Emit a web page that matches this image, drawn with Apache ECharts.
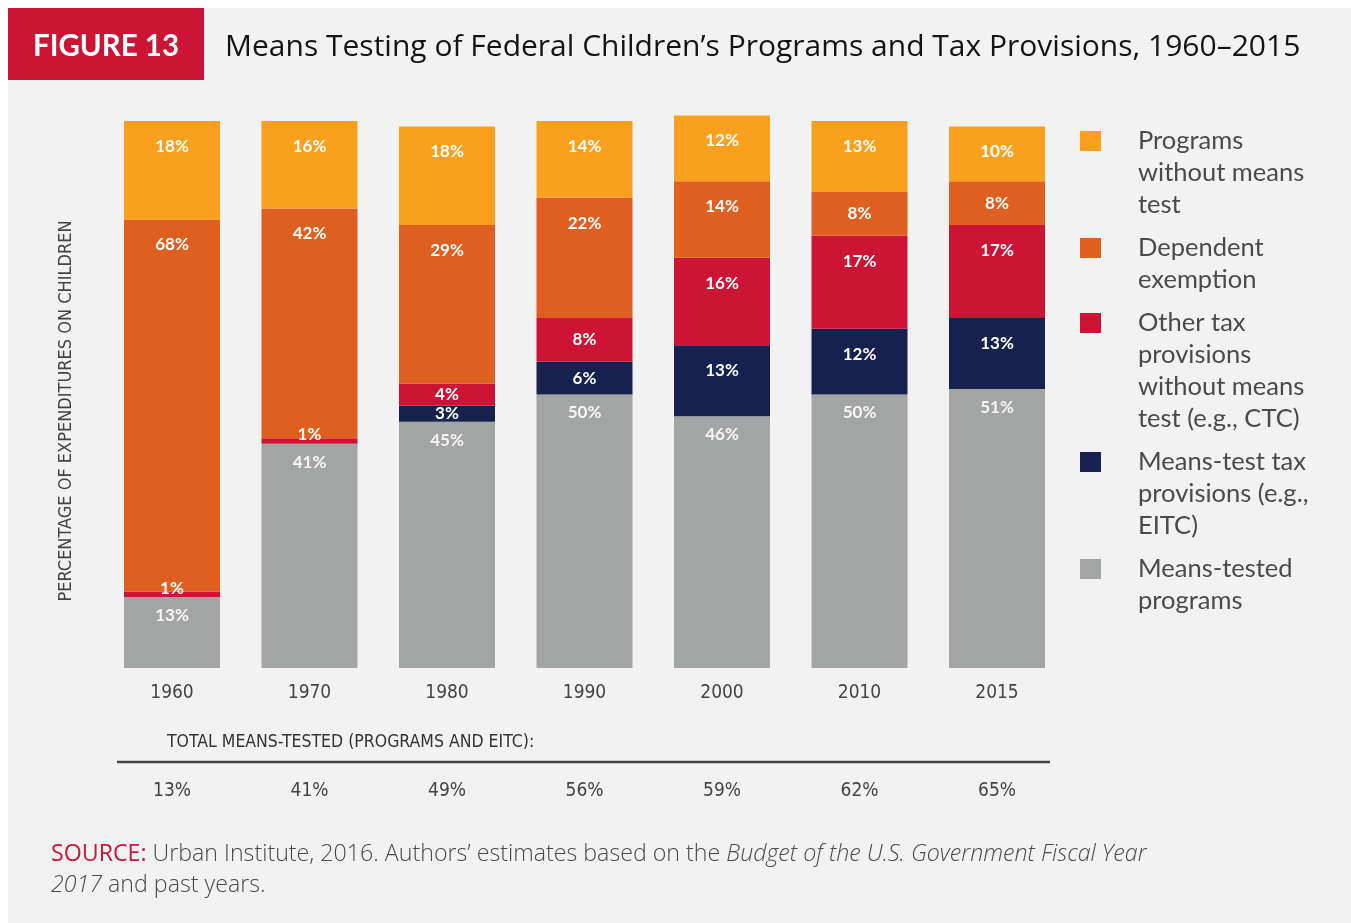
<!DOCTYPE html>
<html>
<head>
<meta charset="utf-8">
<script src="https://cdn.jsdelivr.net/npm/echarts@6/dist/echarts.min.js"></script>
<style>
  html, body { margin: 0; padding: 0; background: #ffffff; }
  #chart { width: 1351px; height: 923px; }
</style>
</head>
<body>
<div id="chart"></div>
<script>
// Categories (years)
var years = ['1960', '1970', '1980', '1990', '2000', '2010', '2015'];

// Share of expenditures on children, percent (stacked bottom to top)
var meansTestedPrograms = [13, 41, 45, 50, 46, 50, 51];
var meansTestTax        = [0, 0, 3, 6, 13, 12, 13];
var otherTax            = [1, 1, 4, 8, 16, 17, 17];
var dependentExemption  = [68, 42, 29, 22, 14, 8, 8];
var programsNoTest      = [18, 16, 18, 14, 12, 13, 10];

// Total means-tested (programs and EITC), percent
var totalMeansTested = [13, 41, 49, 56, 59, 62, 65];

// Series names as shown in the key
var seriesNames = [
  'Means-tested programs',
  'Means-test tax provisions (e.g., EITC)',
  'Other tax provisions without means test (e.g., CTC)',
  'Dependent exemption',
  'Programs without means test'
];
var legendLines = [
  'Means-tested\nprograms',
  'Means-test tax\nprovisions (e.g.,\nEITC)',
  'Other tax\nprovisions\nwithout means\ntest (e.g., CTC)',
  'Dependent\nexemption',
  'Programs\nwithout means\ntest'
];
var colors = ['#A2A5A4', '#16214F', '#CC1434', '#DF5F20', '#F9A11F'];
var seriesValues = [meansTestedPrograms, meansTestTax, otherTax, dependentExemption, programsNoTest];

var LABEL_FONT = 'Lato, "Open Sans", sans-serif';
var WIDE_FONT = '"Open Sans", Lato, sans-serif';
var NARROW_FONT = '"Liberation Sans Narrow", "DejaVu Sans Condensed", "Liberation Sans", sans-serif';

function labelFor(v, seriesIdx) {
  var base = {
    show: v > 0,
    color: seriesIdx === 0 ? '#f6f6f6' : '#ffffff',
    fontFamily: LABEL_FONT,
    fontWeight: 'bold',
    fontSize: 17,
    formatter: function (p) { return p.value + '%'; }
  };
  if (v >= 9) {
    base.position = 'insideTop';
    base.distance = seriesIdx === 0 ? 10 : 17;
  } else if (v >= 2) {
    base.position = 'inside';
  } else {
    base.position = 'inside';
    base.offset = [0, -6];
  }
  return base;
}

var series = seriesValues.map(function (vals, si) {
  return {
    name: seriesNames[si],
    type: 'bar',
    stack: 'total',
    barWidth: 96,
    itemStyle: { color: colors[si] },
    data: vals.map(function (v) {
      return { value: v, label: labelFor(v, si) };
    })
  };
});

// Key on the right, drawn top to bottom in reverse stacking order
var legendGraphics = [];
var ly = 141;
for (var k = seriesNames.length - 1; k >= 0; k--) {
  var nLines = legendLines[k].split('\n').length;
  legendGraphics.push({
    type: 'rect',
    shape: { x: 1080, y: ly - 10, width: 21, height: 20 },
    style: { fill: colors[k] }
  });
  legendGraphics.push({
    type: 'text',
    x: 1138,
    y: ly - 16,
    style: {
      text: legendLines[k],
      fontFamily: LABEL_FONT,
      fontSize: 25.5,
      lineHeight: 32,
      fill: '#4a4a4a',
      verticalAlign: 'top'
    }
  });
  ly += nLines * 32 + 11;
}

var chart = echarts.init(document.getElementById('chart'));
chart.setOption({
  backgroundColor: '#ffffff',
  animation: false,
  grid: { left: 103.25, right: 285.25, top: 115.5, bottom: 255 },
  xAxis: [{
    type: 'category',
    data: years,
    axisLine: { show: false },
    axisTick: { show: false },
    axisLabel: {
      margin: 16,
      fontFamily: NARROW_FONT,
      fontSize: 19,
      color: '#444444'
    }
  }, {
    type: 'category',
    data: totalMeansTested.map(function (v) { return v + '%'; }),
    position: 'bottom',
    offset: 104,
    axisLine: { show: false },
    axisTick: { show: false },
    axisLabel: {
      margin: 10,
      fontFamily: NARROW_FONT,
      fontSize: 19,
      color: '#444444'
    }
  }],
  yAxis: {
    type: 'value',
    min: 0,
    max: 101,
    show: false
  },
  series: series,
  graphic: [
    { type: 'rect', z: -10, shape: { x: 8, y: 8, width: 1343, height: 915 }, style: { fill: '#f2f2f2' } },
    { type: 'rect', shape: { x: 8, y: 8, width: 196, height: 72 }, style: { fill: '#CC1434' } },
    {
      type: 'text', x: 106, y: 46,
      style: {
        text: 'FIGURE 13', fill: '#ffffff', fontFamily: LABEL_FONT, fontWeight: 'bold',
        fontSize: 29.5, align: 'center', verticalAlign: 'middle'
      }
    },
    {
      type: 'text', x: 225, y: 47,
      style: {
        text: 'Means Testing of Federal Children\u2019s Programs and Tax Provisions, 1960\u20132015',
        fill: '#141414', fontFamily: WIDE_FONT, fontSize: 30, verticalAlign: 'middle'
      }
    },
    {
      type: 'text', x: 66, y: 411, rotation: Math.PI / 2,
      style: {
        text: 'PERCENTAGE OF EXPENDITURES ON CHILDREN', fill: '#444444',
        fontFamily: NARROW_FONT, fontSize: 18, align: 'center', verticalAlign: 'middle'
      }
    },
    {
      type: 'text', x: 167, y: 742,
      style: {
        text: 'TOTAL MEANS-TESTED (PROGRAMS AND EITC):', fill: '#333333',
        fontFamily: NARROW_FONT, fontSize: 17.5, verticalAlign: 'middle'
      }
    },
    {
      type: 'line',
      shape: { x1: 117, y1: 762, x2: 1050, y2: 762 },
      style: { stroke: '#444444', lineWidth: 2.5 }
    },
    {
      type: 'text', x: 51, y: 839,
      style: {
        text: '{r|SOURCE:} Urban Institute, 2016. Authors\u2019 estimates based on the {i|Budget of the U.S. Government Fiscal Year}\n{i|2017} and past years.',
        fill: '#4a4a4a', fontFamily: WIDE_FONT, fontSize: 23.2, fontWeight: 300,
        lineHeight: 31, verticalAlign: 'top',
        rich: {
          r: { fill: '#CC1434', fontFamily: WIDE_FONT, fontSize: 23.2, fontWeight: 400 },
          i: { fill: '#4a4a4a', fontFamily: WIDE_FONT, fontSize: 23.2, fontWeight: 300, fontStyle: 'italic' }
        }
      }
    }
  ].concat(legendGraphics)
});
</script>
</body>
</html>
